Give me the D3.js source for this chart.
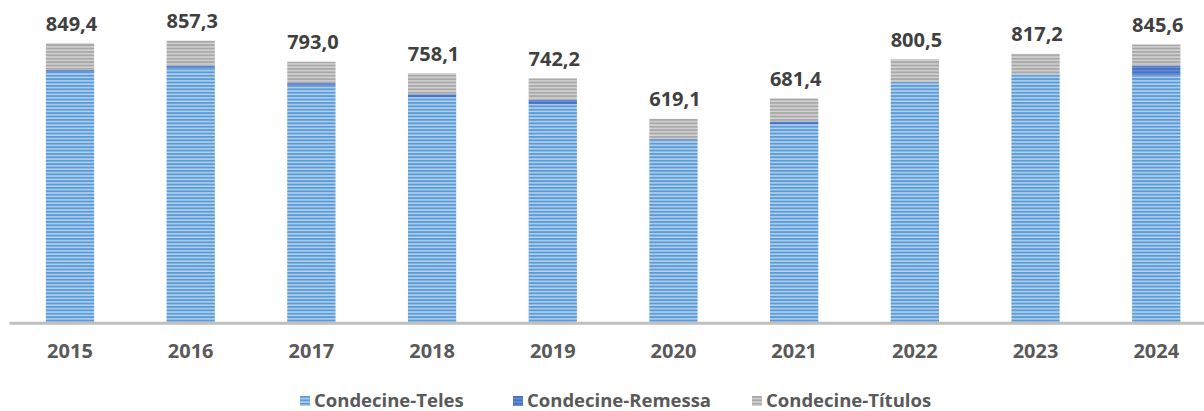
<!DOCTYPE html>
<html>
<head>
<meta charset="utf-8">
<script src="https://cdn.jsdelivr.net/npm/d3@7"></script>
<style>
  html, body { margin: 0; padding: 0; background: #fff; }
  svg { display: block; }
</style>
</head>
<body>
<div id="chart"></div>
<script>
const years = ["2015","2016","2017","2018","2019","2020","2021","2022","2023","2024"];
const teles = [762.4, 773.3, 720.0, 685.1, 664.2, 553.1, 602.4, 729.5, 752.2, 751.6];
const remessa = [6.0, 8.0, 8.0, 9.0, 13.0, 4.0, 9.0, 2.0, 2.0, 30.0];
const titulos = [81.0, 76.0, 65.0, 64.0, 65.0, 62.0, 70.0, 69.0, 63.0, 64.0];
const totals = [849.4, 857.3, 793.0, 758.1, 742.2, 619.1, 681.4, 800.5, 817.2, 845.6];
const seriesNames = ["Condecine-Teles", "Condecine-Remessa", "Condecine-Títulos"];

const W = 1204, H = 411;
const svg = d3.select("#chart").append("svg").attr("width", W).attr("height", H);
const defs = svg.append("defs");

function stripe(id, bg, fg, period, lineH) {
  const p = defs.append("pattern").attr("id", id).attr("patternUnits", "userSpaceOnUse")
    .attr("width", 8).attr("height", period);
  p.append("rect").attr("width", 8).attr("height", period).attr("fill", bg);
  p.append("rect").attr("y", 0).attr("width", 8).attr("height", lineH).attr("fill", fg);
}
stripe("pTeles", "#b4d2ef", "#5b9bd5", 3.4, 1.9);
stripe("pRem", "#6a8fd4", "#4472c4", 3.4, 1.9);
stripe("pTit", "#d4d4d4", "#a8a8a8", 3.4, 1.9);
const fills = ["url(#pTeles)", "url(#pRem)", "url(#pTit)"];

const x = d3.scaleBand().domain(years).range([9.65, 1216.6]).paddingInner(0.6).paddingOuter(0.3);
const y = d3.scaleLinear().domain([0, 900]).range([322, 322 - 900 * 0.3282]);

const data = years.map((yr, i) => ({ year: yr, Teles: teles[i], Remessa: remessa[i], Titulos: titulos[i], total: totals[i] }));
const stack = d3.stack().keys(["Teles", "Remessa", "Titulos"]);
const stacked = stack(data);

svg.append("g").selectAll("g").data(stacked).join("g")
  .attr("fill", (d, i) => fills[i])
  .selectAll("rect").data(d => d).join("rect")
  .attr("x", d => x(d.data.year))
  .attr("width", x.bandwidth())
  .attr("y", d => y(d[1]))
  .attr("height", d => y(d[0]) - y(d[1]));

// axis line
svg.append("line").attr("x1", 9.5).attr("x2", W).attr("y1", y(0) + 1.2).attr("y2", y(0) + 1.2)
  .attr("stroke", "#bfbfbf").attr("stroke-width", 3);

// value labels
svg.append("g").selectAll("text").data(data).join("text")
  .attr("x", d => x(d.year) + x.bandwidth() / 2 + 1.5)
  .attr("y", d => y(d.total) - 12.5)
  .attr("text-anchor", "middle")
  .attr("font-family", "'Open Sans', sans-serif")
  .attr("font-weight", 700)
  .attr("font-size", "20px")
  .attr("fill", "#404040")
  .text(d => d3.format(".1f")(d.total).replace(".", ","));

// x-axis labels
const xAxis = d3.axisBottom(x).tickSize(0).tickPadding(0);
const gx = svg.append("g").attr("transform", `translate(0, ${y(0)})`).call(xAxis);
gx.select(".domain").remove();
gx.selectAll("text")
  .attr("dy", 0).attr("y", 36)
  .attr("font-family", "'Open Sans', sans-serif")
  .attr("font-weight", 700)
  .attr("font-size", "20px")
  .attr("fill", "#595959");

// legend
const legendPos = [300, 513, 752];
const lg = svg.append("g").selectAll("g").data(seriesNames).join("g")
  .attr("transform", (d, i) => `translate(${legendPos[i]}, 396)`);
lg.append("rect").attr("width", 10).attr("height", 10).attr("fill", (d, i) => fills[i]);
lg.append("text").attr("x", 14).attr("y", 10.5)
  .attr("font-family", "'Open Sans', sans-serif")
  .attr("font-weight", 700)
  .attr("font-size", "18.5px")
  .attr("fill", "#595959")
  .text(d => d);
</script>
</body>
</html>
